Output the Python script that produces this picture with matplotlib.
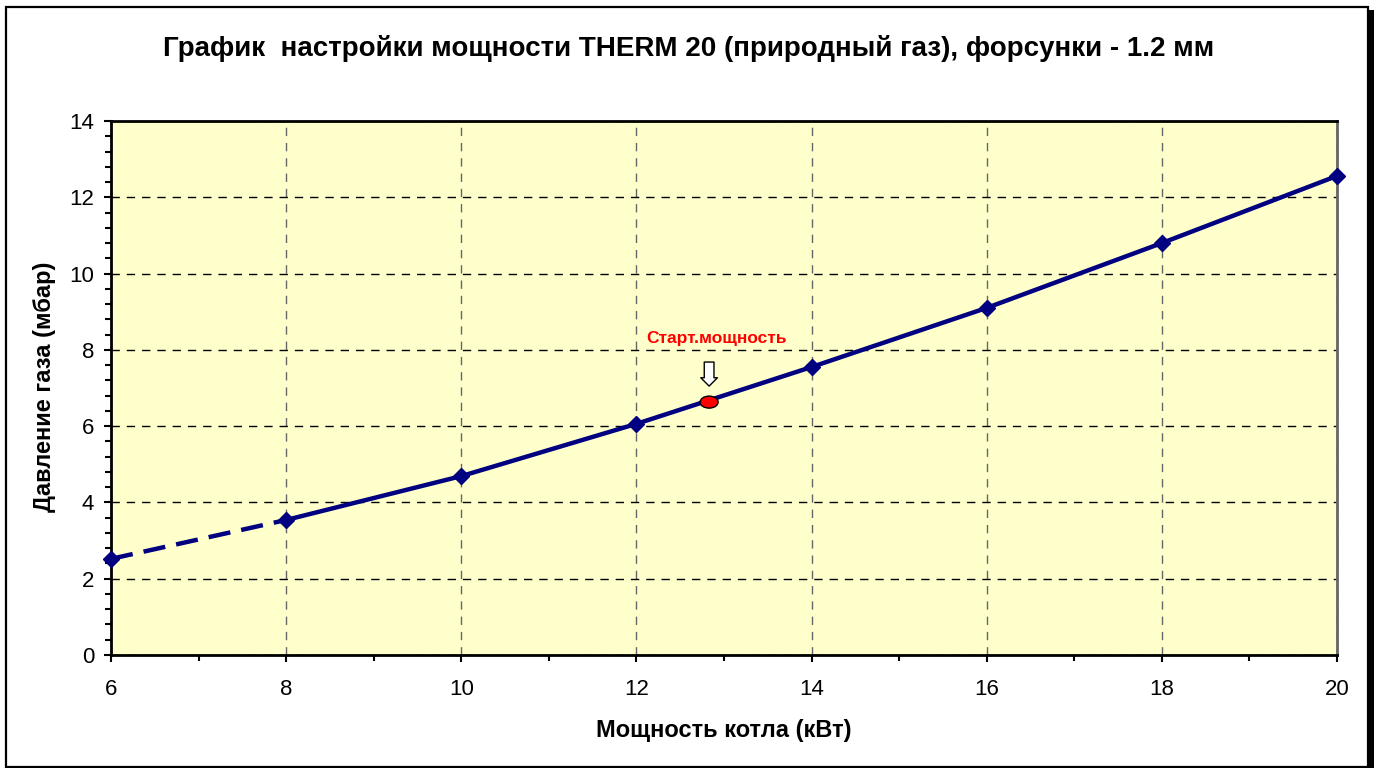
import numpy as np
import matplotlib.pyplot as plt
from matplotlib.patches import Rectangle, Ellipse
from matplotlib.ticker import MultipleLocator

plt.rcParams['font.family'] = ['Liberation Sans', 'DejaVu Sans']

# данные графика
power = [6, 8, 10, 12, 14, 16, 18, 20]
pressure = [2.52, 3.54, 4.69, 6.06, 7.55, 9.10, 10.80, 12.56]
start_power = 12.83
start_pressure = 6.63

W, H = 1374, 768
fig = plt.figure(figsize=(W / 100, H / 100), dpi=100)
# рамка с тенью
fig.patches.append(Rectangle((11 / W, -10 / H), 1370 / W, 768 / H, transform=fig.transFigure,
                             facecolor='black', edgecolor='none', zorder=-2))
fig.patches.append(Rectangle((6 / W, 1 - 767 / H), 1362 / W, 760 / H, transform=fig.transFigure,
                             facecolor='white', edgecolor='black', linewidth=1.6, zorder=-1))

ax = fig.add_axes([111 / W, 1 - 655 / H, 1226 / W, 534 / H])
ax.set_facecolor('#ffffcc')

ax.plot(power[:2], pressure[:2], color='#000080', linewidth=3.2, linestyle=(0, (5, 2.5)), zorder=3)
ax.plot(power[1:], pressure[1:], color='#000080', linewidth=3.2, zorder=3)
ax.plot(power, pressure, linestyle='none', marker='D', markersize=8.5, color='#000080', zorder=4, clip_on=False)

# стартовая мощность
ax.add_patch(Ellipse((start_power, start_pressure), 18 / 87.57, 12 / 38.14, facecolor='red',
                     edgecolor='black', linewidth=1, zorder=5))
ax.annotate('', xy=(start_power, 7.05), xytext=(start_power, 7.68),
            arrowprops=dict(arrowstyle='simple,head_length=0.6,head_width=1.2,tail_width=0.7',
                            facecolor='white', edgecolor='black', linewidth=1, shrinkA=0, shrinkB=0))
ax.text(start_power + 0.09, start_pressure + 1.68, 'Старт.мощность', color='red', fontsize=12.5,
        fontweight='bold', ha='center', va='center')

ax.set_xlim(6, 20)
ax.set_ylim(0, 14)
ax.xaxis.set_major_locator(MultipleLocator(2))
ax.xaxis.set_minor_locator(MultipleLocator(1))
ax.yaxis.set_major_locator(MultipleLocator(2))
ax.yaxis.set_minor_locator(MultipleLocator(0.4))
ax.tick_params(which='major', length=5, width=1.5, labelsize=16)
ax.tick_params(axis='x', which='major', pad=12)
ax.tick_params(axis='y', which='major', pad=7)
ax.tick_params(which='minor', length=4, width=1.5)
ax.grid(True, axis='y', which='major', color='black', linestyle=(0, (6, 5)), linewidth=1)
ax.grid(True, axis='x', which='major', color='#666666', linestyle=(0, (6, 5)), linewidth=1)
for side in ['left', 'bottom', 'top']:
    ax.spines[side].set_linewidth(2)
ax.spines['right'].set_color('#666666')
ax.spines['right'].set_linewidth(2)

ax.set_xlabel('Мощность котла (кВт)', fontsize=17, fontweight='bold', va='center')
ax.set_ylabel('Давление газа (мбар)', fontsize=17, fontweight='bold', va='center')
ax.xaxis.set_label_coords((724 - 111) / 1226, (655 - 730) / 534)
ax.yaxis.set_label_coords((45 - 111) / 1226, (655 - 387) / 534)
fig.text((160 + 1217) / 2 / W, 1 - 48 / H,
         'График  настройки мощности THERM 20 (природный газ), форсунки - 1.2 мм',
         fontsize=20, fontweight='bold', ha='center', va='center')

fig.savefig('out.png', dpi=100)
